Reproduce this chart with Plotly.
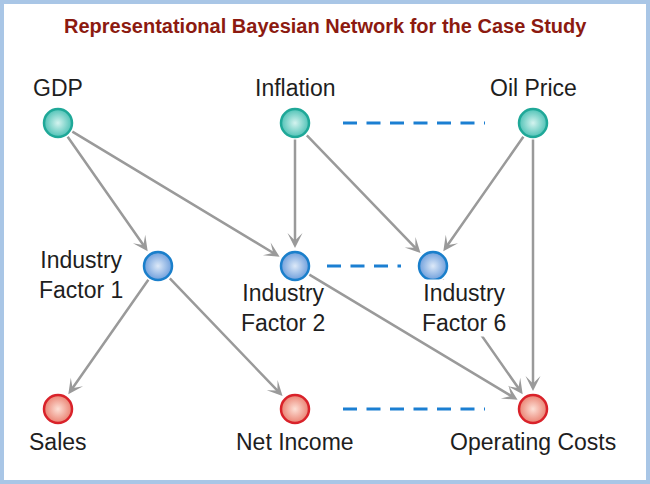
import plotly.graph_objects as go

# nodes of the network (pixel-like coordinates, y grows downwards)
node_names = ["GDP", "Inflation", "Oil Price",
              "Industry Factor 1", "Industry Factor 2", "Industry Factor 6",
              "Sales", "Net Income", "Operating Costs"]
node_x = [58, 295, 533, 158, 295, 433, 58, 295, 533]
node_y = [123, 123, 123, 266, 266, 266, 409, 409, 409]
node_group = ["macro", "macro", "macro",
              "industry", "industry", "industry",
              "outcome", "outcome", "outcome"]
node_labels = ["GDP", "Inflation", "Oil Price",
               "Industry<br>Factor 1", "Industry<br>Factor 2", "Industry<br>Factor 6",
               "Sales", "Net Income", "Operating Costs"]

# causal links (arrows)
edge_from = ["GDP", "GDP", "Inflation", "Inflation", "Oil Price", "Oil Price",
             "Industry Factor 1", "Industry Factor 1", "Industry Factor 2", "Industry Factor 6"]
edge_to = ["Industry Factor 1", "Industry Factor 2", "Industry Factor 2", "Industry Factor 6",
           "Industry Factor 6", "Operating Costs", "Sales", "Net Income",
           "Operating Costs", "Operating Costs"]

# correlations (dashed lines)
dashed_from = ["Inflation", "Industry Factor 2", "Net Income"]
dashed_to = ["Oil Price", "Industry Factor 6", "Operating Costs"]

title_text = "Representational Bayesian Network for the Case Study"

# ---- styling ----
group_style = {
    "macro": dict(outer="#4fc2b6", center="#d4f3ef", border="#1fa898"),
    "industry": dict(outer="#6f9fdc", center="#dde9f8", border="#1a7fcb"),
    "outcome": dict(outer="#ea8272", center="#fde0d6", border="#d9222a"),
}
# label offsets from the node centre (dx, dy)
label_offset = [(0, -35), (0, -35), (0, -35),
                (-77, 8.5), (-12, 41.5), (31, 41.5),
                (0, 33), (0, 33), (0, 33)]
dash_gap = [48, 32, 48]
font_family = "Arial, Liberation Sans, sans-serif"

pos = {n: (x, y) for n, x, y in zip(node_names, node_x, node_y)}

fig = go.Figure()

# dashed correlation lines
for (a, b), gap in zip(zip(dashed_from, dashed_to), dash_gap):
    xa, ya = pos[a]
    xb, yb = pos[b]
    fig.add_trace(go.Scatter(
        x=[xa + gap, xb - gap], y=[ya, yb], mode="lines",
        line=dict(color="#1b7fd2", width=3, dash="14px,9.5px"),
        hoverinfo="skip", showlegend=False,
    ))

# arrows
annotations = []
for a, b in zip(edge_from, edge_to):
    xa, ya = pos[a]
    xb, yb = pos[b]
    annotations.append(dict(
        x=xb, y=yb, ax=xa, ay=ya, xref="x", yref="y", axref="x", ayref="y",
        text="", showarrow=True, arrowhead=3, arrowsize=1.0, arrowwidth=2.5,
        arrowcolor="#9a9a9a", standoff=18, startstandoff=15,
    ))

# node labels
for name, label, (dx, dy) in zip(node_names, node_labels, label_offset):
    x0, y0 = pos[name]
    annotations.append(dict(
        x=x0 + dx, y=y0 + dy, xref="x", yref="y",
        text=label, showarrow=False, xanchor="center", yanchor="middle",
        align="center",
        font=dict(family=font_family, size=23, color="#1e1e1e"),
        bgcolor="white" if name == "Industry Factor 6" else None,
        borderpad=0,
    ))

# title
annotations.append(dict(
    x=325, y=26, xref="x", yref="y", text="<b>" + title_text + "</b>",
    showarrow=False, xanchor="center", yanchor="middle",
    font=dict(family=font_family, size=20, color="#8c1a10"),
))

# nodes
for g in ["macro", "industry", "outcome"]:
    st = group_style[g]
    xs = [x for x, gg in zip(node_x, node_group) if gg == g]
    ys = [y for y, gg in zip(node_y, node_group) if gg == g]
    fig.add_trace(go.Scatter(
        x=xs, y=ys, mode="markers",
        marker=dict(size=28, color=st["outer"],
                    gradient=dict(type="radial", color=st["center"]),
                    line=dict(color=st["border"], width=2.5)),
        hoverinfo="skip", showlegend=False,
    ))

fig.update_layout(
    width=650, height=484,
    margin=dict(l=0, r=0, t=0, b=0),
    paper_bgcolor="white", plot_bgcolor="white",
    annotations=annotations,
    shapes=[dict(type="rect", xref="x", yref="y", x0=2, x1=648, y0=2, y1=482,
                 line=dict(color="#a9c6e6", width=4), layer="below")],
)
fig.update_xaxes(range=[0, 650], visible=False, fixedrange=True)
fig.update_yaxes(range=[484, 0], visible=False, fixedrange=True)

# the page has a default body margin; drop it so the figure fills the window
fig.write_html("out.html", config={"displayModeBar": False},
               post_script="document.body.style.margin='0';")
